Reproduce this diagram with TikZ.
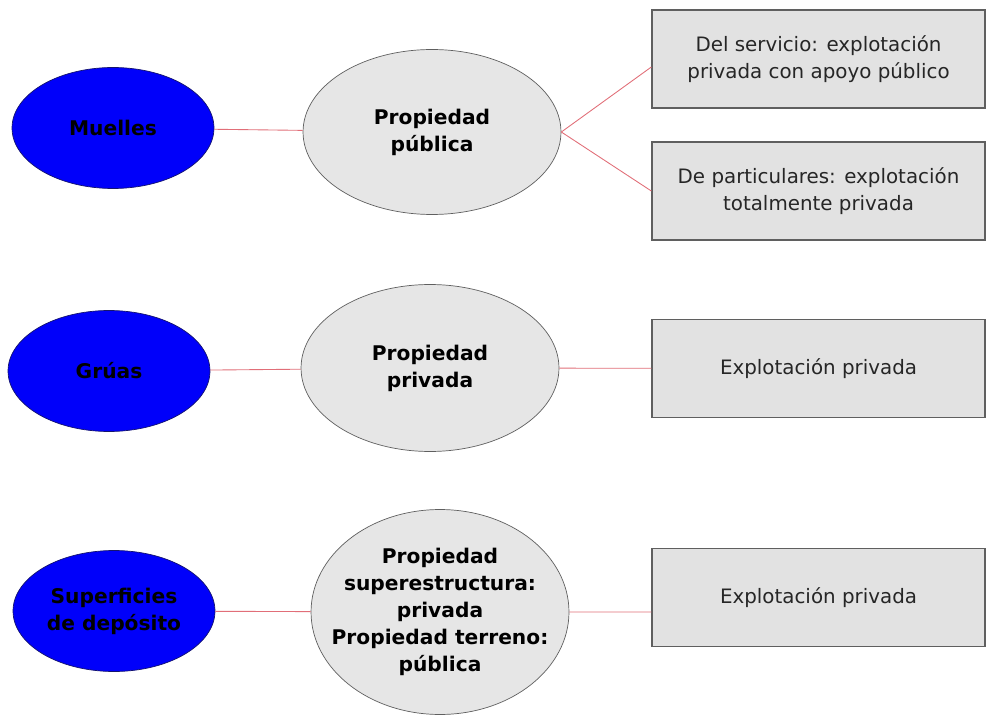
\documentclass[tikz,border=0pt]{standalone}
\usepackage{fontspec}
\setmainfont{DejaVu Sans}
\usepackage{tikz}
\usetikzlibrary{shapes.geometric}
\definecolor{node_blue}{RGB}{0,0,250}
\definecolor{edge_blue}{RGB}{20,20,110}
\definecolor{node_gray}{RGB}{230,230,230}
\definecolor{edge_gray}{RGB}{95,95,95}
\definecolor{box_gray}{RGB}{226,226,226}
\definecolor{edge_red}{RGB}{225,110,120}

\begin{document}
\begin{tikzpicture}[x=0.02cm,y=-0.02cm]
    \tikzstyle{item}=[ellipse, draw=edge_blue, fill=node_blue, inner sep=0pt, align=center, text=black,
                      font=\fontsize{11.5}{15.3}\selectfont\bfseries, minimum width=4.04cm, minimum height=2.42cm]
    \tikzstyle{prop}=[ellipse, draw=edge_gray, fill=node_gray, inner sep=0pt, align=center, text=black,
                      font=\fontsize{11.5}{15.3}\selectfont\bfseries, minimum width=5.16cm]
    \tikzstyle{expl}=[rectangle, draw=edge_gray, line width=0.8pt, fill=box_gray, inner sep=0pt, align=center,
                      text=black!85, font=\fontsize{11.3}{15.3}\selectfont, minimum width=6.66cm, minimum height=1.96cm]
    \tikzstyle{link}=[draw=edge_red, line width=0.5pt]

    \useasboundingbox (0,0) rectangle (989,722);

    \node[item] (m)  at (113,128) {Muelles};
    \node[item] (g)  at (109,371) {Grúas};
    \node[item] (s)  at (114,611) {Superficies\\de depósito};

    \node[prop, minimum height=3.3cm] (pm) at (432,132) {Propiedad\\pública};
    \node[prop, minimum height=3.34cm] (pg) at (430,368) {Propiedad\\privada};
    \node[prop, minimum height=4.1cm,
          label={[align=center, font=\fontsize{11.5}{15.3}\selectfont\bfseries]center:Propiedad\\superestructura:\\privada\\Propiedad terreno:\\pública}]
          (ps) at (440,612) {};

    \node[expl] (e1) at (818.5,59)  {Del servicio: explotación\\privada con apoyo público};
    \node[expl] (e2) at (818.5,191) {De particulares: explotación\\totalmente privada};
    \node[expl] (e3) at (818.5,368.5) {Explotación privada};
    \node[expl] (e4) at (818.5,597.5) {Explotación privada};

    \path[link]
     (m) edge (pm)
     (g) edge (pg)
     (s) edge (ps)
     (pm.east) edge ([yshift=-0.16cm]e1.west)
     (pm.east) edge (e2.west)
     (pg) edge (e3)
     (ps.east) edge ([yshift=-0.29cm]e4.west)
     ;
\end{tikzpicture}
\end{document}
